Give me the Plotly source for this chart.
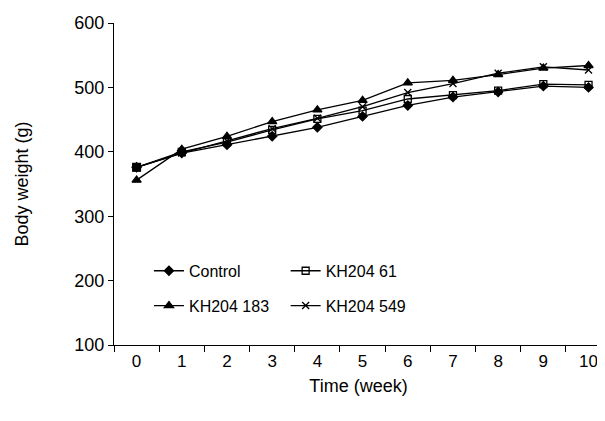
import plotly.graph_objects as go

weeks = [0, 1, 2, 3, 4, 5, 6, 7, 8, 9, 10]
control = [376, 398, 411, 424, 438, 455, 472, 485, 493, 502, 500]
kh61 = [376, 400, 415, 434, 451, 464, 482, 488, 495, 505, 504]
kh183 = [356, 404, 424, 447, 465, 480, 507, 511, 520, 530, 534]
kh549 = [376, 398, 417, 436, 452, 470, 492, 506, 522, 532, 527]

series = [
    ("Control", control, "diamond", 7, "legend"),
    ("KH204 61", kh61, "square-open", 7, "legend2"),
    ("KH204 183", kh183, "triangle-up", 8, "legend"),
    ("KH204 549", kh549, "x-thin-open", 7, "legend2"),
]

fig = go.Figure()
for name, vals, sym, sz, lg in series:
    fig.add_trace(go.Scatter(
        x=weeks, y=vals, name=name, mode="lines+markers",
        line=dict(color="black", width=1.3),
        marker=dict(symbol=sym, size=sz, color="black",
                    line=dict(color="black", width=1.3)),
        legend=lg, legendgroup=name,
    ))

# the week-0 square looks filled in the reference
fig.add_trace(go.Scatter(
    x=weeks[:1], y=kh61[:1], mode="markers", showlegend=False,
    marker=dict(symbol="square", size=9, color="black"),
))

font = "Liberation Sans, Arial, sans-serif"
legend_common = dict(
    bgcolor="rgba(0,0,0,0)", font=dict(family=font, size=16, color="black"),
    tracegroupgap=11, xanchor="left", yanchor="middle", itemwidth=30,
)

# page body has an 8px margin, so the figure is shifted by 8px
fig.update_layout(
    width=597, height=413,
    margin=dict(l=106, r=2, t=15, b=76),
    paper_bgcolor="white", plot_bgcolor="white",
    font=dict(family=font, size=18, color="black"),
    legend=dict(x=0.0715, y=0.176, **legend_common),
    legend2=dict(x=0.351, y=0.176, **legend_common),
    xaxis=dict(
        range=[-0.5, 10.32], tickvals=weeks, ticktext=[str(w) for w in weeks],
        ticks="", showgrid=False, zeroline=False, automargin=False,
        showline=True, linecolor="black", linewidth=1.3,
        tickfont=dict(size=17),
        minor=dict(tickvals=[w - 0.5 for w in weeks], ticks="outside",
                   ticklen=6, tickcolor="black", tickwidth=1.2),
        title=dict(text="Time (week)", font=dict(size=18), standoff=9),
    ),
    yaxis=dict(
        range=[100, 600], tickvals=[100, 200, 300, 400, 500, 600],
        ticks="outside", ticklen=5, tickcolor="black", tickwidth=1.2,
        showgrid=False, zeroline=False, automargin=False,
        showline=True, linecolor="black", linewidth=1.3,
        tickfont=dict(size=18),
        title=dict(text="Body weight (g)", font=dict(size=18), standoff=40),
    ),
)

fig.write_html("out.html")
